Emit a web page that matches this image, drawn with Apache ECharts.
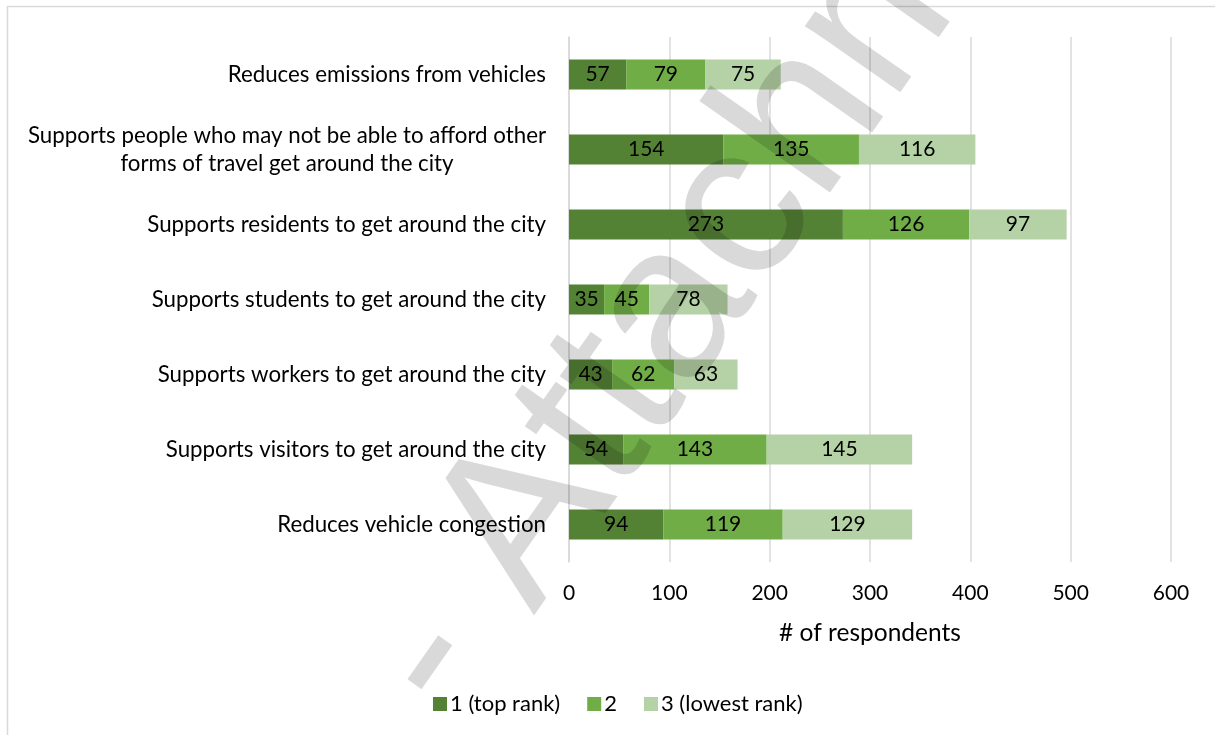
<!DOCTYPE html>
<html>
<head>
<meta charset="utf-8">
<title>Reasons ranked by respondents</title>
<script src="https://cdn.jsdelivr.net/npm/echarts@6/dist/echarts.min.js"></script>
<style>
  html, body { margin: 0; padding: 0; background: #ffffff; }
  #chart { width: 1215px; height: 735px; }
</style>
</head>
<body>
<div id="chart"></div>
<script>
// Reasons, top to bottom
const categories = [
  'Reduces emissions from vehicles',
  'Supports people who may not be able to afford other\nforms of travel get around the city',
  'Supports residents to get around the city',
  'Supports students to get around the city',
  'Supports workers to get around the city',
  'Supports visitors to get around the city',
  'Reduces vehicle congestion'
];

// Number of respondents giving each rank
const rankTop = [57, 154, 273, 35, 43, 54, 94];
const rankTwo = [79, 135, 126, 45, 62, 143, 119];
const rankLow = [75, 116, 97, 78, 63, 145, 129];

const seriesNames = ['1 (top rank)', '2', '3 (lowest rank)'];
const xTicks = [0, 100, 200, 300, 400, 500, 600];
const axisTitle = '# of respondents';
const watermarkText = '- Attachment';

const FONT = 'Lato, "Open Sans", sans-serif';
const CAT_SIZE = 22.3;
const CAT_LINE = 28;
const WRAP_WIDTH = 518;   // width of the block that holds a wrapped category label
const colors = ['#548235', '#70AD47', '#B4D2A5'];

// Wrapped category labels: lines centred within a right-aligned block.
const catRich = { ml: { width: WRAP_WIDTH, align: 'center', fontSize: CAT_SIZE, fontFamily: FONT, color: '#000', lineHeight: CAT_LINE } };

function catFormatter(value) {
  if (value.indexOf('\n') < 0) return value;
  return value.split('\n').map(l => '{ml|' + l + '}').join('\n');
}

const barSeries = [rankTop, rankTwo, rankLow].map((data, i) => ({
  name: seriesNames[i],
  type: 'bar',
  stack: 'rank',
  barWidth: 30,
  data: data,
  itemStyle: { color: colors[i] },
  label: {
    show: true,
    position: 'inside',
    color: '#000',
    fontFamily: FONT,
    fontSize: 21
  }
}));

const chart = echarts.init(document.getElementById('chart'), null, { renderer: 'canvas' });

chart.setOption({
  animation: false,
  backgroundColor: '#ffffff',
  textStyle: { fontFamily: FONT },
  grid: { left: 569, right: 44, top: 37, bottom: 173, containLabel: false },
  xAxis: {
    type: 'value',
    min: xTicks[0],
    max: xTicks[xTicks.length - 1],
    interval: 100,
    name: axisTitle,
    nameLocation: 'middle',
    nameGap: 59,
    nameTextStyle: { color: '#000', fontSize: 24.5, fontFamily: FONT },
    axisLine: { show: false },
    axisTick: { show: false },
    axisLabel: { color: '#000', fontSize: 21, fontFamily: FONT, margin: 21 },
    splitLine: { show: true, lineStyle: { color: '#d9d9d9', width: 1.5 } }
  },
  yAxis: {
    type: 'category',
    inverse: true,
    data: categories,
    axisLine: { show: true, lineStyle: { color: '#d9d9d9', width: 1.5 } },
    axisTick: { show: false },
    axisLabel: {
      color: '#000',
      fontSize: CAT_SIZE,
      fontFamily: FONT,
      margin: 23,
      align: 'right',
      lineHeight: CAT_LINE,
      formatter: catFormatter,
      rich: catRich
    }
  },
  legend: {
    left: 428,
    top: 688,
    itemWidth: 14,
    itemHeight: 14,
    itemGap: 27,
    icon: 'rect',
    textStyle: { color: '#000', fontSize: 22, fontFamily: FONT, padding: [0, 0, 0, -2] },
    data: seriesNames
  },
  series: barSeries,
  graphic: [
    // chart frame (top and left edges)
    { type: 'line', z: 100, shape: { x1: 7, y1: 6.5, x2: 1215, y2: 6.5 }, style: { stroke: '#d9d9d9', lineWidth: 1.5 } },
    { type: 'line', z: 100, shape: { x1: 7.5, y1: 6, x2: 7.5, y2: 735 }, style: { stroke: '#d9d9d9', lineWidth: 1.5 } },
    // diagonal watermark
    {
      type: 'text',
      z: 200,
      x: 407,
      y: 691,
      rotation: 55 * Math.PI / 180,
      silent: true,
      style: {
        text: watermarkText,
        x: 0,
        y: 0,
        align: 'left',
        verticalAlign: 'middle',
        font: '220px "Liberation Sans", Arial, sans-serif',
        fill: 'rgba(0,0,0,0.15)'
      }
    }
  ]
});
</script>
</body>
</html>
